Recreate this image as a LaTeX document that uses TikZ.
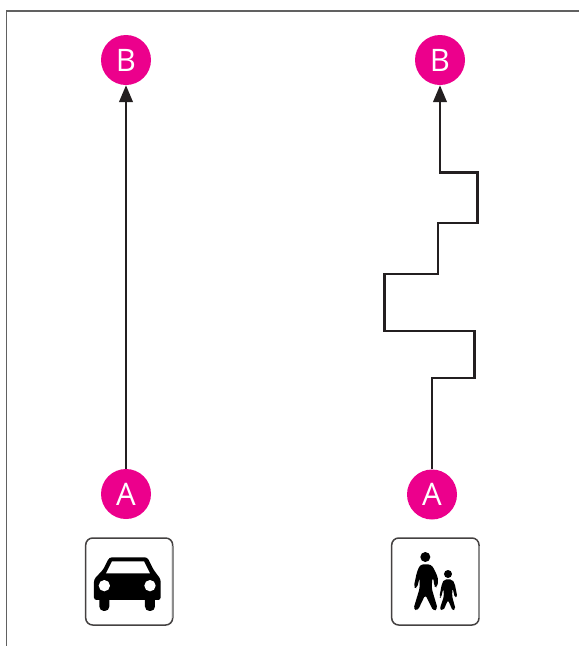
\documentclass[tikz,border=0pt]{standalone}
\usepackage{fontspec}
\setmainfont{Open Sans}
\usetikzlibrary{arrows.meta}
\definecolor{pinkc}{HTML}{EC008C}
\definecolor{inkc}{HTML}{231F20}
\tikzset{
  stop/.style={circle,fill=pinkc,text=white,minimum size=50pt,inner sep=0pt,font=\fontsize{31}{31}\selectfont},
  route/.style={draw=inkc,line width=2.6pt,miter limit=10},
  tipped/.style={-{Triangle[width=13.5pt,length=17pt]}},
  signbox/.style={draw=inkc!85,line width=1.5pt,rounded corners=7pt,fill=white},
  signedge/.style={draw=black!45,line width=2pt},
  glyph/.style={fill=black,draw=none},
  frameline/.style={draw=black!62,line width=1.2pt}
}
\begin{document}
\begin{tikzpicture}[x=1pt,y=-1pt]
\useasboundingbox (0,0) rectangle (579,646);
\draw[frameline] (6.5,646) -- (6.5,11) -- (579,11);
\node[stop] (a1) at (126,494) {A};
\node[stop] (b1) at (126,60) {B};
\node[stop] (a2) at (432,494.5) {A};
\node[stop] (b2) at (440,60) {B};
\draw[route,tipped] (a1) -- (b1);
\draw[route,tipped] (a2) -- (432,378) -- (474.7,378) -- (474.7,331) -- (384.7,331)
  -- (384.7,274) -- (438,274) -- (438,223) -- (477.3,223) -- (477.3,172.3)
  -- (440,172.3) -- (b2);
% car sign
\draw[signbox] (85.7,538) rectangle (172.7,625);
\draw[signedge] (173,546) -- (173,618);
\begin{scope}[shift={(70,520)},x=0.3333pt,y=-0.3333pt]
  \fill[glyph,rounded corners=2.5pt] (118,112) -- (232,112) -- (250,148) -- (272,178) -- (272,240)
    -- (72,240) -- (72,178) -- (100,148) -- cycle;
  \fill[glyph,rounded corners=4.5pt] (88,225) rectangle (118,273);
  \fill[glyph,rounded corners=4.5pt] (225,225) rectangle (255,273);
  \fill[white] (126,124) -- (222,124) -- (240,160) -- (108,160) -- cycle;
  \fill[white] (103,197) circle[radius=17];
  \fill[white] (240,197) circle[radius=17];
\end{scope}
% pedestrian sign
\draw[signbox] (391.7,538) rectangle (479,625);
\draw[signedge] (479.3,546) -- (479.3,618);
\begin{scope}[shift={(375,520)},x=0.3333pt,y=-0.3333pt]
  \fill[glyph] (151,111) circle[radius=15];
  \fill[glyph,rounded corners=3pt] (136,133) -- (168,133) -- (178,148) -- (190,176) -- (187,202)
    -- (177,200) -- (177,180) -- (172,172) -- (170,205) -- (188,266) -- (176,274) -- (151,224)
    -- (128,272) -- (115,268) -- (134,205) -- (134,172) -- (126,205) -- (116,202) -- (126,155) -- cycle;
  \fill[glyph] (219,162) circle[radius=12];
  \fill[glyph,rounded corners=2pt] (208,178) -- (231,178) -- (239,190) -- (247,230) -- (239,232)
    -- (233,204) -- (231,228) -- (242,268) -- (233,272) -- (219,240) -- (205,272) -- (194,268)
    -- (207,228) -- (205,206) -- (198,234) -- (193,231) -- (201,190) -- cycle;
\end{scope}
\end{tikzpicture}
\end{document}
